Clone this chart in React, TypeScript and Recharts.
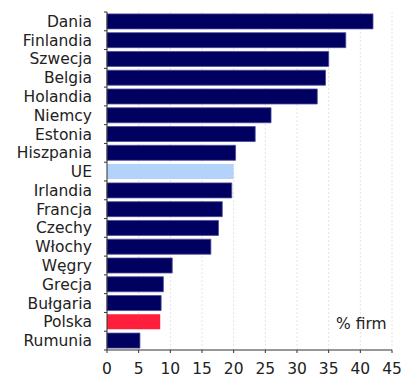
import { BarChart, Bar, XAxis, YAxis, CartesianGrid, Cell } from "recharts";

const COUNTRIES = [
  "Dania",
  "Finlandia",
  "Szwecja",
  "Belgia",
  "Holandia",
  "Niemcy",
  "Estonia",
  "Hiszpania",
  "UE",
  "Irlandia",
  "Francja",
  "Czechy",
  "Włochy",
  "Węgry",
  "Grecja",
  "Bułgaria",
  "Polska",
  "Rumunia",
];

const VALUES = [42.0, 37.7, 35.0, 34.5, 33.2, 25.9, 23.4, 20.3, 20.0, 19.7, 18.2, 17.6, 16.4, 10.3, 8.9, 8.55, 8.4, 5.2];

const X_TICKS = [0, 5, 10, 15, 20, 25, 30, 35, 40, 45];

const NAVY = "#000060";
const HIGHLIGHT: Record<string, string> = { UE: "#b3d3fb", Polska: "#ff1f3d" };

const W = 416;
const H = 377;
const TOP = 12;
const BOTTOM_AXIS = 27;
const BAND = (H - TOP - BOTTOM_AXIS) / COUNTRIES.length;
const FONT = "'DejaVu Sans', sans-serif";
const FS = 15.5;

const data = COUNTRIES.map((name, i) => ({ name, value: VALUES[i] }));

function CountryTick(props: any) {
  const { x, y, payload, index } = props;
  const axisX = x + 8;
  return (
    <g>
      <line x1={axisX - 3} x2={axisX} y1={y - BAND / 2} y2={y - BAND / 2} stroke="#333" />
      {index === COUNTRIES.length - 1 && (
        <line x1={axisX - 3} x2={axisX} y1={y + BAND / 2} y2={y + BAND / 2} stroke="#333" />
      )}
      <text x={x - 7} y={y} dy={5.5} textAnchor="end" fill="#222" fontSize={FS} fontFamily={FONT}>
        {payload.value}
      </text>
    </g>
  );
}

export default function App() {
  return (
    <div style={{ position: "absolute", left: 0, top: 0, width: W, height: H, background: "#fff" }}>
      <BarChart
        width={W}
        height={H}
        data={data}
        layout="vertical"
        margin={{ top: TOP, right: 24, bottom: 0, left: 0 }}
        barCategoryGap="10%"
      >
        <CartesianGrid horizontal={false} stroke="#e4e4e4" strokeDasharray="2 2" />
        <XAxis
          type="number"
          domain={[0, 45]}
          ticks={X_TICKS}
          height={BOTTOM_AXIS}
          stroke="#333"
          tickSize={3}
          tickMargin={10}
          tick={{ fontSize: FS, fill: "#222", fontFamily: FONT }}
          interval={0}
        />
        <YAxis
          type="category"
          dataKey="name"
          width={107}
          stroke="#333"
          tickLine={false}
          tick={<CountryTick />}
          interval={0}
        />
        <Bar dataKey="value" isAnimationActive={false} stroke="#4a4a99" strokeWidth={0.8}>
          {data.map((d) => (
            <Cell
              key={d.name}
              fill={HIGHLIGHT[d.name] ?? NAVY}
              stroke={HIGHLIGHT[d.name] ? "none" : "#4a4a99"}
            />
          ))}
        </Bar>
      </BarChart>
      <div
        style={{
          position: "absolute",
          left: 336,
          top: 315,
          fontFamily: FONT,
          fontSize: FS,
          color: "#222",
          whiteSpace: "nowrap",
        }}
      >
        % firm
      </div>
    </div>
  );
}
